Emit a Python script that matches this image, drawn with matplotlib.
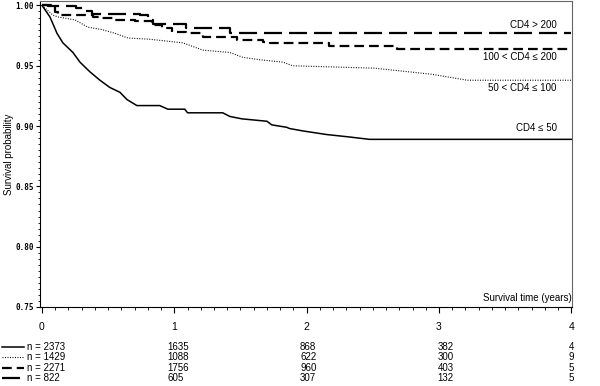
import matplotlib
matplotlib.use("Agg")
import matplotlib.pyplot as plt
import matplotlib.transforms as mtransforms
from matplotlib.ticker import MultipleLocator, FormatStrFormatter

plt.rcParams["font.family"] = ["Liberation Sans", "DejaVu Sans"]
plt.rcParams["lines.scale_dashes"] = False

# Kaplan-Meier curves (time in years, survival probability)
t_le50 = [0, 0.008, 0.06, 0.113, 0.158, 0.234, 0.287, 0.362, 0.438, 0.513, 0.589,
          0.642, 0.717, 0.89, 0.951, 1.079, 1.10, 1.366, 1.419, 1.51, 1.70, 1.736,
          1.849, 1.87, 1.97, 2.15, 2.32, 2.475, 4.0]
s_le50 = [1.0, 0.9988, 0.9905, 0.977, 0.969, 0.961, 0.953, 0.945, 0.938, 0.932, 0.928,
          0.922, 0.917, 0.917, 0.914, 0.914, 0.911, 0.911, 0.908, 0.906, 0.904, 0.901,
          0.899, 0.898, 0.896, 0.893, 0.891, 0.889, 0.889]

t_50_100 = [0, 0.083, 0.12, 0.25, 0.347, 0.453, 0.55, 0.65, 0.815, 0.98, 1.064, 1.215,
            1.42, 1.517, 1.645, 1.82, 1.894, 2.513, 2.943, 3.215, 4.0]
s_50_100 = [1.0, 0.992, 0.9905, 0.988, 0.982, 0.980, 0.977, 0.973, 0.972, 0.970, 0.969,
            0.963, 0.961, 0.957, 0.955, 0.953, 0.950, 0.948, 0.943, 0.938, 0.938]

t_100_200 = [0, 0.10, 0.12, 0.385, 0.453, 0.55, 0.70, 0.83, 0.906, 0.98, 1.09, 1.215,
             1.47, 1.67, 1.72, 2.17, 2.68, 4.0]
s_100_200 = [1.0, 0.9946, 0.992, 0.9905, 0.9896, 0.988, 0.987, 0.984, 0.981, 0.978,
             0.977, 0.974, 0.971, 0.970, 0.969, 0.966, 0.964, 0.964]

t_gt200 = [0, 0.045, 0.26, 0.32, 0.38, 0.74, 0.80, 0.84, 1.09, 1.42, 4.0]
s_gt200 = [1.0, 0.9996, 0.998, 0.995, 0.993, 0.992, 0.988, 0.985, 0.981, 0.977, 0.977]

curve_labels = ["CD4 \u2264 50", "50 < CD4 \u2264 100", "100 < CD4 \u2264 200", "CD4 > 200"]
label_y = [0.8984, 0.9316, 0.957, 0.984]

# numbers at risk, one row per group, columns at years 0..4
at_risk = [
    [2373, 1635, 868, 382, 4],
    [1429, 1088, 622, 300, 9],
    [2271, 1756, 960, 403, 5],
    [822, 605, 307, 132, 5],
]

styles = [
    dict(linestyle="-", linewidth=1.1),
    dict(linestyle=(0, (0.7, 1.1)), linewidth=0.8),
    dict(linestyle=(0, (7.0, 3.6)), linewidth=1.6),
    dict(linestyle=(0, (13.0, 5.0)), linewidth=1.6),
]
# the steep curve has many tiny steps, the others show visible stairs
drawstyles = ["default", "default", "steps-post", "steps-post"]

fig = plt.figure(figsize=(6.0, 3.86), dpi=100)
ax = fig.add_axes([40 / 600, 79 / 386, 532 / 600, 306 / 386])

curves = [(t_le50, s_le50), (t_50_100, s_50_100), (t_100_200, s_100_200), (t_gt200, s_gt200)]
for (t, s), st, ds in zip(curves, styles, drawstyles):
    ax.plot(t, s, color="black", drawstyle=ds, **st)

for lab, y in zip(curve_labels, label_y):
    ax.text(3.89, y, lab, ha="right", va="center", fontsize=7)

ax.set_xlim(-0.015, 4.005)
ax.set_ylim(0.75, 1.0037)

ax.xaxis.set_major_locator(MultipleLocator(1))
ax.xaxis.set_minor_locator(MultipleLocator(0.1))
ax.yaxis.set_major_locator(MultipleLocator(0.05))
ax.yaxis.set_minor_locator(MultipleLocator(0.005))
ax.yaxis.set_major_formatter(FormatStrFormatter("%.2f"))

ax.tick_params(axis="x", which="major", direction="out", length=4, width=0.8, pad=7,
               labelsize=7.5)
ax.tick_params(axis="x", which="minor", direction="out", length=2.5, width=0.6)
ax.tick_params(axis="y", which="major", direction="out", length=3, width=0.8, pad=1.5)
ax.tick_params(axis="y", which="minor", direction="out", length=1.5, width=0.6)
for lbl in ax.get_yticklabels():
    lbl.set_family("DejaVu Sans Mono")
    lbl.set_fontsize(5.5)
    lbl.set_fontweight("bold")

for side in ["top", "right"]:
    ax.spines[side].set_color("#666666")
    ax.spines[side].set_linewidth(0.8)
for side in ["left", "bottom"]:
    ax.spines[side].set_linewidth(0.8)

ax.set_ylabel("Survival probability", fontsize=7, labelpad=1)
ax.text(1.0, 0.012, "Survival time (years)", transform=ax.transAxes,
        ha="right", va="bottom", fontsize=7)

# number-at-risk table below the axis
row_y = [347, 357, 368, 378]
col_x = [0.95, 1.95, 2.99, 3.98]
blend = mtransforms.blended_transform_factory(ax.transData, fig.transFigure)
for row, y_px, st in zip(at_risk, row_y, styles):
    fy = (386 - y_px) / 386
    fig.add_artist(plt.Line2D([2 / 600, 24 / 600], [fy, fy], color="black",
                              transform=fig.transFigure, **st))
    fig.text(27 / 600, fy, f"n = {row[0]}", ha="left", va="center", fontsize=7)
    for x, v in zip(col_x, row[1:]):
        fig.text(x, fy, str(v), ha="left", va="center", fontsize=7, transform=blend)

fig.savefig("out.png", dpi=100)
